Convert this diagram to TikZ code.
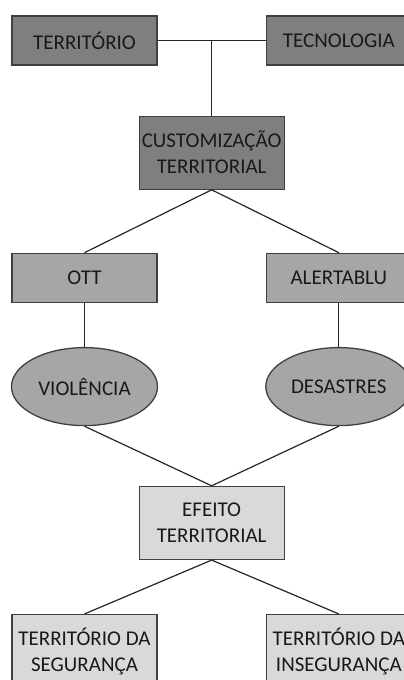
\documentclass[tikz,border=0pt]{standalone}
\usepackage{fontspec}
\setmainfont{Carlito}
\usepackage{tikz}
\usetikzlibrary{shapes.geometric}
\usetikzlibrary{positioning}
\definecolor{tamnosiva}{HTML}{7F7F7F}
\definecolor{srednjesiva}{HTML}{A6A6A6}
\definecolor{svijetlosiva}{HTML}{D9D9D9}
\tikzset{every node/.style={font=\fontsize{21}{26}\selectfont, text=black!90}}

\begin{document}
\begin{tikzpicture}[
darknode/.style={rectangle, draw=black!75, fill=tamnosiva, line width=1.3pt, minimum width=145pt, minimum height=49pt, inner sep=2pt, align=center},
midnode/.style={rectangle, draw=black!75, fill=srednjesiva, line width=1.3pt, minimum width=145pt, minimum height=49pt, inner sep=2pt, align=center},
ellinode/.style={ellipse, draw=black!75, fill=srednjesiva, line width=1.3pt, minimum width=146pt, minimum height=78pt, inner sep=0pt},
lightnode/.style={rectangle, draw=black!75, fill=svijetlosiva, line width=1.3pt, minimum width=145pt, minimum height=73pt, inner sep=2pt, align=center},
line width=1.2pt, draw=black!85
]

\useasboundingbox (0,0) rectangle (404pt,-680pt);

%Nodes
\node[darknode]      (territorio_node)  at (84.5pt,-40.5pt) {TERRITÓRIO};
\node[darknode]      (tecnologia_node)  [right=108pt of territorio_node] {TECNOLOGIA};
\coordinate[right=54pt of territorio_node] (spoj_node);
\node[darknode, minimum height=73pt] (customizacao_node) [below=75pt of spoj_node] {CUSTOMIZAÇÃO\\TERRITORIAL};

\node[midnode]       (ott_node)         [below=187pt of territorio_node] {OTT};
\node[midnode]       (alertablu_node)   [below=187pt of tecnologia_node] {ALERTABLU};
\node[ellinode]      (violencia_node)   [below=44pt of ott_node] {VIOLÊNCIA};
\node[ellinode]      (desastres_node)   [below=44pt of alertablu_node] {DESASTRES};

\node[lightnode]     (efeito_node)      [below=296pt of customizacao_node] {EFEITO\\TERRITORIAL};
\node[lightnode]     (seguranca_node)   [below=311pt of ott_node] {TERRITÓRIO DA\\SEGURANÇA};
\node[lightnode]     (inseguranca_node) [below=311pt of alertablu_node] {TERRITÓRIO DA\\INSEGURANÇA};

%Lines
\draw (territorio_node.east) -- (tecnologia_node.west);
\draw (spoj_node) -- (customizacao_node.north);
\draw (customizacao_node.south) -- (ott_node.north);
\draw (customizacao_node.south) -- (alertablu_node.north);
\draw (ott_node.south) -- (violencia_node.north);
\draw (alertablu_node.south) -- (desastres_node.north);
\draw (violencia_node.south) -- (efeito_node.north);
\draw (desastres_node.south) -- (efeito_node.north);
\draw (efeito_node.south) -- (seguranca_node.north);
\draw (efeito_node.south) -- (inseguranca_node.north);

\end{tikzpicture}
\end{document}
